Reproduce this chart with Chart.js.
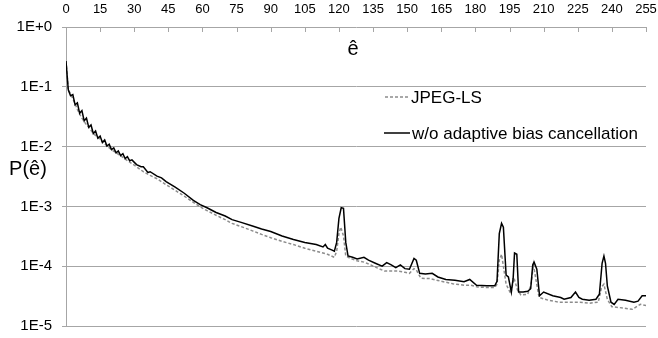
<!DOCTYPE html>
<html>
<head>
<meta charset="utf-8">
<script src="https://cdn.jsdelivr.net/npm/chart.js@4.4.0/dist/chart.umd.min.js"></script>
<style>
  html, body { margin: 0; padding: 0; background: #fff; }
  canvas { display: block; }
</style>
</head>
<body>
<canvas id="chart" width="658" height="338"></canvas>
<script>
// x axis ticks (error value e^) and y decades
const xTicks = [0, 15, 30, 45, 60, 75, 90, 105, 120, 135, 150, 165, 180, 195, 210, 225, 240, 255];
const yTicks = [1e-5, 1e-4, 1e-3, 1e-2, 1e-1, 1];
const seriesNames = ['JPEG-LS', 'w/o adaptive bias cancellation'];

// JPEG-LS (grey dashed)
const jpegX = [0, 1, 2, 3, 4, 5, 6, 7, 8, 10, 12, 15, 19, 22, 25, 28, 31, 34, 37, 40, 44, 48, 52, 56, 59, 62, 66, 70, 73, 77, 82, 86, 90, 95, 100, 105, 110, 113, 115, 118, 119, 120, 120.8, 122, 123, 125, 128, 131, 134, 137, 140, 143, 146, 149, 151, 153, 154, 156, 160, 165, 170, 175, 178, 181, 185, 188.5, 189.5, 190.5, 191.5, 192.3, 193.5, 195.5, 197, 198.5, 200, 203, 204.5, 205.5, 206.5, 208, 212, 217, 222, 226, 230, 234, 235.5, 236.5, 238, 240, 245, 249, 252.5, 255];
const jpegP = [2.69e-1, 8.9e-2, 7.6e-2, 6.3e-2, 5.2e-2, 4.2e-2, 3.5e-2, 3.0e-2, 2.6e-2, 2.1e-2, 1.66e-2, 1.32e-2, 9.5e-3, 7.9e-3, 6.6e-3, 5.5e-3, 4.6e-3, 3.8e-3, 3.3e-3, 2.9e-3, 2.3e-3, 1.86e-3, 1.48e-3, 1.17e-3, 9.8e-4, 8.5e-4, 7.1e-4, 6.0e-4, 5.2e-4, 4.6e-4, 3.9e-4, 3.4e-4, 3.0e-4, 2.6e-4, 2.3e-4, 2.0e-4, 1.78e-4, 1.66e-4, 1.58e-4, 1.41e-4, 1.78e-4, 3.5e-4, 4.5e-4, 3.2e-4, 1.48e-4, 1.35e-4, 1.23e-4, 1.17e-4, 1.05e-4, 9.3e-5, 8.3e-5, 8.3e-5, 8.3e-5, 7.9e-5, 7.6e-5, 9.1e-5, 8.7e-5, 6.3e-5, 6.2e-5, 5.6e-5, 5.1e-5, 4.8e-5, 4.8e-5, 4.5e-5, 4.4e-5, 4.4e-5, 5.0e-5, 1.26e-4, 1.58e-4, 1.0e-4, 5.0e-5, 3.5e-5, 6.3e-5, 4.0e-5, 3.3e-5, 3.4e-5, 5.0e-5, 1.07e-4, 6.3e-5, 3.0e-5, 2.7e-5, 2.5e-5, 2.5e-5, 2.5e-5, 2.4e-5, 2.5e-5, 4.5e-5, 5.0e-5, 2.8e-5, 2.1e-5, 2.0e-5, 1.9e-5, 2.3e-5, 2.2e-5];

// w/o adaptive bias cancellation (black solid)
const noBiasX = [0, 1, 2, 3, 4, 5, 6, 7, 8, 9, 10, 11, 12, 13, 14, 15, 16, 17, 18, 19, 20, 21, 22, 23, 24, 25, 26, 27, 28, 29, 31, 33, 34, 36, 37, 40, 42, 44, 48, 52, 56, 59, 62, 66, 70, 73, 77, 82, 86, 90, 95, 100, 105, 110, 113, 114, 115, 117, 118, 119, 120, 121, 122, 123, 124, 126, 128, 131, 133, 136, 139, 141, 143, 145, 147, 149, 151, 153, 154, 155.5, 158, 161, 163.5, 167, 171, 175, 177.5, 180.5, 185, 188.5, 189.5, 190.5, 191.5, 192.3, 193.5, 194.5, 195.8, 196.6, 197.2, 198.2, 199, 201, 203, 204.3, 205.2, 205.8, 207, 208.2, 210, 214, 217.5, 219, 222, 224, 225.5, 227, 230, 233, 234.5, 235.7, 236.5, 237.2, 238, 239.6, 241, 242.7, 246, 249.7, 251.5, 253.3, 255];
const noBiasP = [2.69e-1, 8.9e-2, 7.1e-2, 7.4e-2, 5.0e-2, 5.4e-2, 3.6e-2, 4.0e-2, 2.7e-2, 3.0e-2, 2.1e-2, 2.3e-2, 1.66e-2, 1.82e-2, 1.38e-2, 1.5e-2, 1.17e-2, 1.29e-2, 1.02e-2, 1.1e-2, 8.9e-3, 9.5e-3, 7.9e-3, 8.5e-3, 7.1e-3, 7.6e-3, 6.3e-3, 6.8e-3, 5.8e-3, 6.0e-3, 5.0e-3, 4.6e-3, 4.6e-3, 3.7e-3, 3.8e-3, 3.2e-3, 3.0e-3, 2.6e-3, 2.1e-3, 1.66e-3, 1.26e-3, 1.07e-3, 9.5e-4, 7.9e-4, 6.9e-4, 6.0e-4, 5.4e-4, 4.7e-4, 4.2e-4, 3.8e-4, 3.2e-4, 2.8e-4, 2.5e-4, 2.3e-4, 2.1e-4, 2.3e-4, 2.0e-4, 1.86e-4, 1.78e-4, 2.5e-4, 6.3e-4, 9.5e-4, 9.3e-4, 2.5e-4, 1.48e-4, 1.41e-4, 1.32e-4, 1.41e-4, 1.26e-4, 1.12e-4, 1.0e-4, 1.15e-4, 1.05e-4, 9.5e-5, 1.05e-4, 9.1e-5, 8.9e-5, 1.35e-4, 1.26e-4, 7.6e-5, 7.4e-5, 7.6e-5, 6.6e-5, 6.0e-5, 5.8e-5, 5.5e-5, 6.0e-5, 4.8e-5, 4.7e-5, 4.7e-5, 5.6e-5, 3.5e-4, 5.2e-4, 4.5e-4, 7.1e-5, 6.6e-5, 3.7e-5, 6.3e-5, 1.66e-4, 1.58e-4, 3.7e-5, 3.7e-5, 3.8e-5, 4.2e-5, 1.05e-4, 1.17e-4, 8.9e-5, 3.2e-5, 3.7e-5, 3.2e-5, 3.0e-5, 2.8e-5, 3.0e-5, 3.7e-5, 3.0e-5, 2.8e-5, 2.7e-5, 2.8e-5, 3.4e-5, 1.12e-4, 1.48e-4, 1.12e-4, 4.7e-5, 2.5e-5, 2.3e-5, 2.8e-5, 2.7e-5, 2.5e-5, 2.6e-5, 3.2e-5, 3.2e-5];

const gridColor = '#a6a6a6';
const FONT = 'Arial, "Liberation Sans", sans-serif';

function pairs(xs, ys) {
    return xs.map((x, i) => ({ x: x, y: ys[i] }));
}

function expLabel(v) {
    const e = Math.round(Math.log10(v));
    return '1E' + (e >= 0 ? '+' : '-') + Math.abs(e);
}

// titles, inward ticks on the top axis and the legend inside the plot
const decorations = {
    id: 'decorations',
    afterDraw(chart) {
        const ctx = chart.ctx;
        const area = chart.chartArea;
        const xs = chart.scales.x;
        ctx.save();
        ctx.strokeStyle = gridColor;
        ctx.lineWidth = 1;
        xTicks.forEach(function(v) {
            const px = Math.round(xs.getPixelForValue(v)) + 0.5;
            ctx.beginPath();
            ctx.moveTo(px, area.top);
            ctx.lineTo(px, area.top + 5);
            ctx.stroke();
        });

        ctx.fillStyle = '#000';
        ctx.textBaseline = 'alphabetic';
        ctx.textAlign = 'center';
        ctx.font = '20px ' + FONT;
        ctx.fillText('ê', 353, 55);
        ctx.fillText('P(ê)', 28, 175);

        // legend
        ctx.textAlign = 'left';
        ctx.font = '17px ' + FONT;
        ctx.strokeStyle = '#8c8c8c';
        ctx.lineWidth = 1.5;
        ctx.setLineDash([3, 2]);
        ctx.beginPath();
        ctx.moveTo(385, 97);
        ctx.lineTo(410, 97);
        ctx.stroke();
        ctx.fillText(seriesNames[0], 411, 103);

        ctx.setLineDash([]);
        ctx.strokeStyle = '#000';
        ctx.beginPath();
        ctx.moveTo(384, 133);
        ctx.lineTo(410, 133);
        ctx.stroke();
        ctx.fillText(seriesNames[1], 412, 139);
        ctx.restore();
    }
};

const ctx = document.getElementById('chart').getContext('2d');
const chart = new Chart(ctx, {
    type: 'line',
    data: {
        datasets: [{
            label: seriesNames[1],
            data: pairs(noBiasX, noBiasP),
            borderColor: '#000',
            borderWidth: 1.5,
            pointRadius: 0,
            tension: 0,
            order: 0
        }, {
            label: seriesNames[0],
            data: pairs(jpegX, jpegP),
            borderColor: '#8c8c8c',
            borderWidth: 1.5,
            borderDash: [3, 2],
            pointRadius: 0,
            tension: 0,
            order: 1
        }]
    },
    options: {
        responsive: false,
        animation: false,
        devicePixelRatio: 1,
        layout: { padding: { left: 0, right: 12, top: 0, bottom: 12 } },
        plugins: {
            legend: { display: false },
            tooltip: { enabled: false }
        },
        scales: {
            x: {
                type: 'linear',
                position: 'top',
                min: 0,
                max: 255,
                afterBuildTicks: function(scale) {
                    scale.ticks = xTicks.map(v => ({ value: v }));
                },
                afterFit: function(scale) {
                    scale.height = 27;
                    scale.paddingLeft = 0;
                    scale.paddingRight = 0;
                },
                ticks: {
                    color: '#000',
                    font: { size: 13, family: FONT },
                    padding: 10,
                    maxRotation: 0,
                    autoSkip: false
                },
                grid: { display: false, drawTicks: false },
                border: { display: false }
            },
            y: {
                type: 'logarithmic',
                min: 1e-5,
                max: 1,
                afterBuildTicks: function(scale) {
                    scale.ticks = yTicks.map(v => ({ value: v }));
                },
                afterFit: function(scale) {
                    scale.width = 66;
                    scale.paddingTop = 0;
                    scale.paddingBottom = 0;
                },
                ticks: {
                    color: '#000',
                    font: { size: 15, family: FONT },
                    padding: 10,
                    callback: expLabel
                },
                grid: { color: gridColor, tickLength: 4 },
                border: { color: gridColor }
            }
        }
    },
    plugins: [decorations]
});
</script>
</body>
</html>
